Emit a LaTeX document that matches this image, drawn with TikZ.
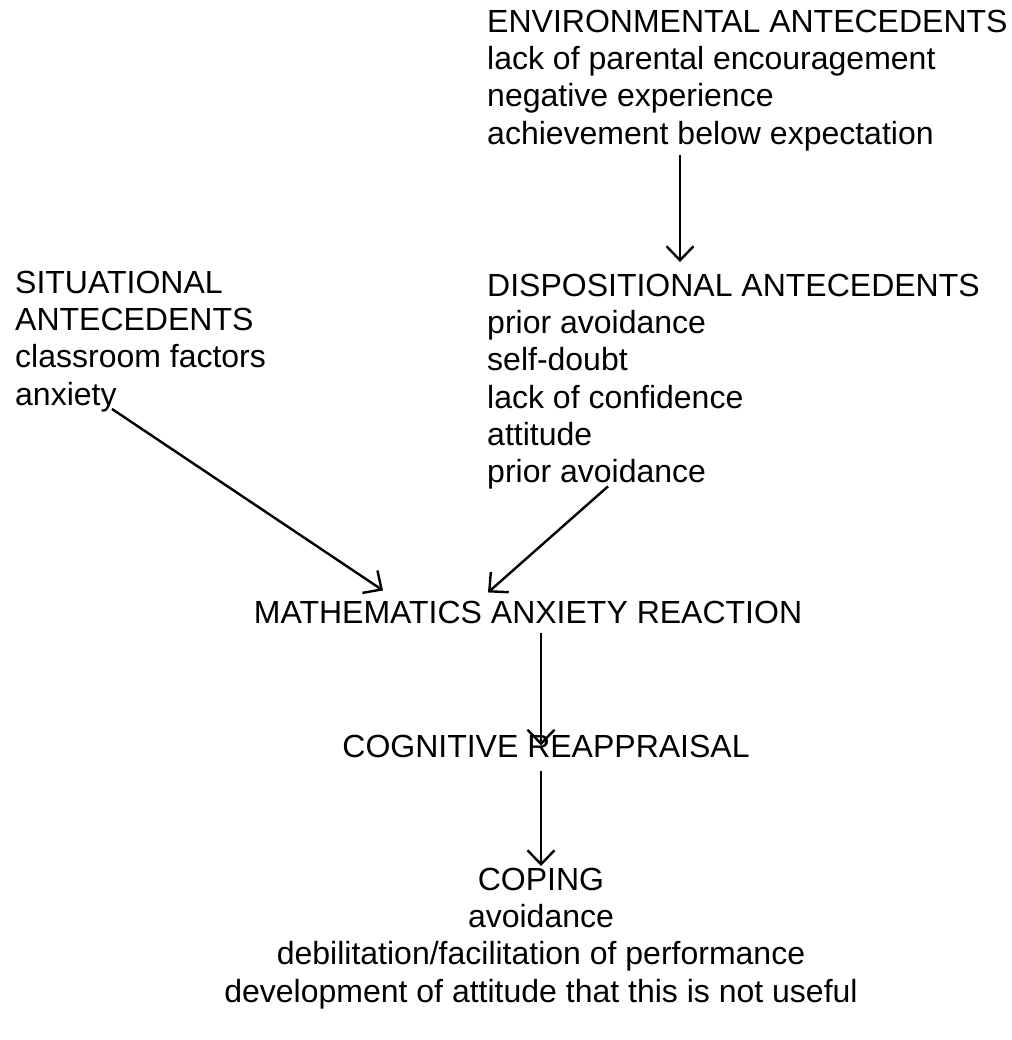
\documentclass[tikz,border=0pt]{standalone}
\usepackage{fontspec}
\setmainfont{Liberation Sans}
\usetikzlibrary{arrows.meta,calc}
\tikzset{
  txt/.style={inner sep=0pt, font=\fontsize{32}{37.2}\selectfont},
  arr/.style={line width=2.4pt, -{Straight Barb[length=14pt,width=27pt]}}
}
\begin{document}
\begin{tikzpicture}[x=1pt,y=-1pt]
\useasboundingbox[fill=white] (0,0) rectangle (1011,1040);
\node[txt, anchor=north west, align=left] (env) at (487,10)
  {ENVIRONMENTAL ANTECEDENTS\\lack of parental encouragement\\negative experience\\achievement below expectation};
\node[txt, anchor=north west, align=left] (disp) at (487,274)
  {DISPOSITIONAL ANTECEDENTS\\prior avoidance\\self-doubt\\lack of confidence\\attitude\\prior avoidance};
\node[txt, anchor=north west, align=left] (sit) at (15,271)
  {SITUATIONAL\\ANTECEDENTS\\classroom factors\\anxiety};
\node[txt, anchor=base] (mar) at (528,623) {MATHEMATICS ANXIETY REACTION};
\node[txt, anchor=base] (cog) at (546,757) {COGNITIVE REAPPRAISAL};
\node[txt, anchor=north, align=center] (cop) at (541,868)
  {COPING\\avoidance\\debilitation/facilitation of performance\\development of attitude that this is not useful};
\coordinate (ex) at (680,0);
\coordinate (ax) at (541,0);
\draw[arr, shorten <=4pt, shorten >=12pt] (env.south -| ex) -- (disp.north -| ex);
\draw[arr] ($(sit.south west)+(97,-3)$) -- ($(mar.north)+(-145,-10)$);
\draw[arr] ($(disp.south west)+(121,-3)$) -- ($(mar.north)+(-40,-8)$);
\draw[arr, shorten <=9pt, shorten >=-11pt] (mar.south -| ax) -- (cog.north -| ax);
\draw[arr, shorten <=13pt, shorten >=2pt] (cog.south -| ax) -- (cop.north -| ax);
\end{tikzpicture}
\end{document}
